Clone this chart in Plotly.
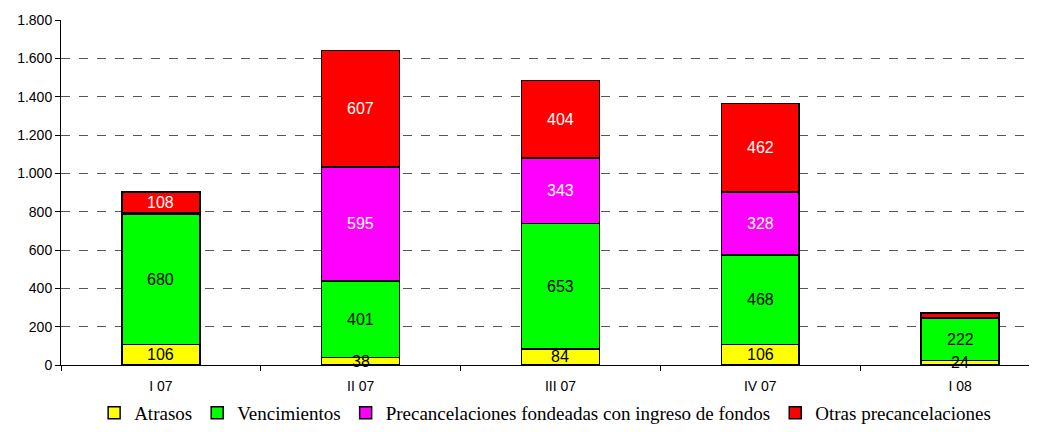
import plotly.graph_objects as go

categories = ["I 07", "II 07", "III 07", "IV 07", "I 08"]
atrasos = [106, 38, 84, 106, 24]
vencimientos = [680, 401, 653, 468, 222]
precanc_fondeadas = [8, 595, 343, 328, 0]
otras_precanc = [108, 607, 404, 462, 25]

series_names = ["Atrasos", "Vencimientos",
                "Precancelaciones fondeadas con ingreso de fondos",
                "Otras precancelaciones"]
series_values = [atrasos, vencimientos, precanc_fondeadas, otras_precanc]
series_colors = ["#FFFF00", "#00FF00", "#FF00FF", "#FF0000"]
text_colors = ["black", "black", "white", "white"]
label_min = [0, 0, 50, 50]

fig = go.Figure()
annotations = []
base = [0] * len(categories)
for name, vals, col, tcol, lmin in zip(series_names, series_values, series_colors,
                                       text_colors, label_min):
    fig.add_trace(go.Bar(
        x=categories, y=vals, name=name,
        marker=dict(color=col, line=dict(color="black", width=1.5)),
        width=0.39, hoverinfo="x+y+name",
    ))
    for i, v in enumerate(vals):
        if v > 0 and v >= lmin:
            annotations.append(dict(
                x=categories[i], y=base[i] + v / 2, xref="x", yref="y",
                text=str(v), showarrow=False,
                font=dict(family="Liberation Sans, Arial", size=16, color=tcol),
            ))
        base[i] += v

fig.update_layout(
    barmode="stack",
    width=1029, height=424,
    margin=dict(l=53, r=0, t=12, b=67, autoexpand=False),
    plot_bgcolor="white", paper_bgcolor="white",
    separators=",.",
    showlegend=True,
    annotations=annotations,
    legend=dict(orientation="h", xref="container", x=0.522, xanchor="center",
                yref="container", y=0.0, yanchor="bottom",
                font=dict(family="Liberation Serif, Times New Roman", size=19, color="black"),
                itemwidth=30, traceorder="normal"),
    xaxis=dict(range=[-0.5, 4.385], showline=True, linecolor="black", linewidth=1,
               ticks="outside", tickcolor="black", ticklen=5, tickson="boundaries",
               ticklabelstandoff=8,
               tickfont=dict(family="Liberation Sans, Arial", size=14, color="black"),
               showgrid=False, fixedrange=True, automargin=False),
    yaxis=dict(range=[0, 1800], dtick=200, tickformat=",d", showline=True,
               linecolor="black", linewidth=1, ticks="outside", tickcolor="black",
               ticklen=5, tickfont=dict(family="Liberation Sans, Arial", size=14, color="black"),
               showgrid=True, gridcolor="#555555", griddash="dash", gridwidth=1,
               zeroline=False, automargin=False),
)

fig.write_html("out.html")
